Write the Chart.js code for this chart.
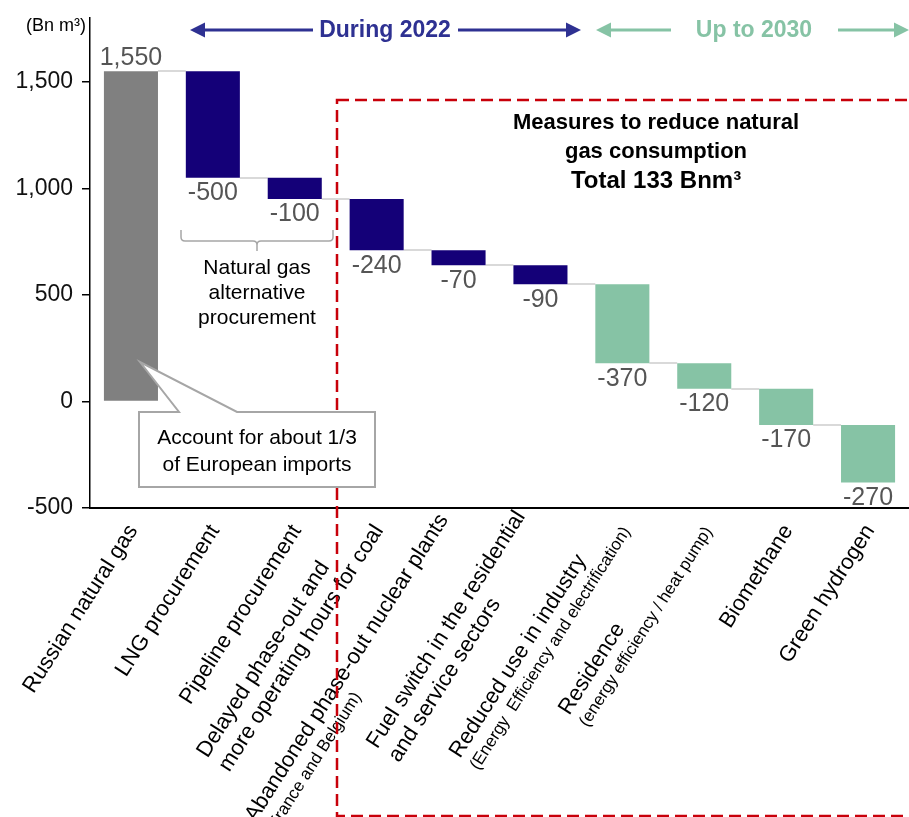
<!DOCTYPE html>
<html lang="en">
<head>
<meta charset="UTF-8" />
<title>Natural gas - waterfall</title>
<script src="https://cdn.jsdelivr.net/npm/chart.js"></script>
<style>
  html, body { margin: 0; padding: 0; background: #fff; }
  #wrap { position: relative; width: 909px; height: 817px; overflow: hidden; }
</style>
</head>
<body>
<div id="wrap"><canvas id="gasChart"></canvas></div>
<script>
// data
const categories = [
  ["Russian natural gas"],
  ["LNG procurement"],
  ["Pipeline procurement"],
  ["Delayed phase-out and", "more operating hours for coal"],
  ["Abandoned phase-out nuclear plants", "(France and Belgium)"],
  ["Fuel switch in the residential", "and service sectors"],
  ["Reduced use in industry", "(Energy  Efficiency and electrification)"],
  ["Residence", "(energy efficiency / heat pump)"],
  ["Biomethane"],
  ["Green hydrogen"]
];
const changes = [1550, -500, -100, -240, -70, -90, -370, -120, -170, -270];
const periods = ["base", "2022", "2022", "2022", "2022", "2022", "2030", "2030", "2030", "2030"];
const yTicks = [-500, 0, 500, 1000, 1500];

const FONT = "'Liberation Sans', Arial, sans-serif";
const periodColors = { base: "#808080", "2022": "#140078", "2030": "#86c3a5" };
const NAVY = "#2e3192";
const GREEN = "#86c3a5";

// running totals -> floating bars
let level = 0;
const totals = [];
const ranges = changes.map(v => {
  const from = level;
  level += v;
  totals.push(level);
  return [Math.min(from, level), Math.max(from, level)];
});

function fmt(v) { return v.toLocaleString("en-US"); }

function arrow(ctx, x1, x2, y, color) {
  // line from x1 to x2, head at x2
  const dir = Math.sign(x2 - x1);
  ctx.strokeStyle = color;
  ctx.fillStyle = color;
  ctx.lineWidth = 3;
  ctx.beginPath();
  ctx.moveTo(x1, y);
  ctx.lineTo(x2 - dir * 12, y);
  ctx.stroke();
  ctx.beginPath();
  ctx.moveTo(x2, y);
  ctx.lineTo(x2 - dir * 15, y - 7.5);
  ctx.lineTo(x2 - dir * 15, y + 7.5);
  ctx.closePath();
  ctx.fill();
}

function centerText(ctx, lines, x, y0, step, font, color) {
  ctx.font = font;
  ctx.fillStyle = color;
  ctx.textAlign = "center";
  ctx.textBaseline = "middle";
  lines.forEach((t, k) => ctx.fillText(t, x, y0 + k * step));
}

const connectors = {
  id: "connectors",
  beforeDatasetsDraw(chart) {
    const ctx = chart.ctx;
    const bars = chart.getDatasetMeta(0).data;
    const ys = chart.scales.y;
    ctx.save();
    ctx.strokeStyle = "#d9d9d9";
    ctx.lineWidth = 2;
    for (let i = 0; i < bars.length - 1; i++) {
      const y = Math.round(ys.getPixelForValue(totals[i]));
      ctx.beginPath();
      ctx.moveTo(bars[i].x + bars[i].width / 2, y);
      ctx.lineTo(bars[i + 1].x - bars[i + 1].width / 2, y);
      ctx.stroke();
    }
    ctx.restore();
  }
};

const overlays = {
  id: "overlays",
  afterDraw(chart) {
    const ctx = chart.ctx;
    const xs = chart.scales.x;
    const ys = chart.scales.y;
    const area = chart.chartArea;
    const bars = chart.getDatasetMeta(0).data;
    ctx.save();

    // value labels
    ctx.font = "25px " + FONT;
    ctx.fillStyle = "#555";
    ctx.textAlign = "center";
    changes.forEach((v, i) => {
      const b = bars[i];
      if (v >= 0) {
        ctx.textBaseline = "alphabetic";
        ctx.fillText(fmt(v), b.x, ys.getPixelForValue(ranges[i][1]) - 6);
      } else {
        ctx.textBaseline = "top";
        ctx.fillText(fmt(v), b.x, ys.getPixelForValue(ranges[i][0]) + 3);
      }
    });

    // rotated category labels: block right-aligned at the tick, anchored on its last line,
    // lines left-aligned inside the block
    const angle = -57.5 * Math.PI / 180;
    categories.forEach((lines, i) => {
      const sizes = lines.map(t => t.startsWith("(") ? 17 : 22);
      const steps = sizes.map(s => s * 1.18);
      const widths = lines.map((t, k) => {
        ctx.font = sizes[k] + "px " + FONT;
        return ctx.measureText(t).width;
      });
      const W = Math.max(...widths);
      const H = steps.reduce((a, b) => a + b, 0);
      const centers = [];
      steps.forEach((s, k) => {
        centers.push(k === 0 ? s / 2 : centers[k - 1] + steps[k - 1] / 2 + s / 2);
      });
      ctx.save();
      ctx.translate(xs.getPixelForValue(i) + 2, area.bottom + 19);
      ctx.rotate(angle);
      ctx.fillStyle = "#000";
      ctx.textAlign = "left";
      ctx.textBaseline = "middle";
      lines.forEach((t, k) => {
        ctx.font = sizes[k] + "px " + FONT;
        ctx.fillText(t, -W, centers[k] - H + 13);
      });
      ctx.restore();
    });

    // red dashed frame for the reduction measures
    ctx.strokeStyle = "#c8000a";
    ctx.lineWidth = 2.5;
    ctx.setLineDash([12, 6]);
    ctx.strokeRect(337, 100, 600, 716);
    ctx.setLineDash([]);

    // callout
    ctx.beginPath();
    ctx.moveTo(139, 412);
    ctx.lineTo(179, 412);
    ctx.lineTo(140, 362);
    ctx.lineTo(237, 412);
    ctx.lineTo(375, 412);
    ctx.lineTo(375, 487);
    ctx.lineTo(139, 487);
    ctx.closePath();
    ctx.fillStyle = "#fff";
    ctx.fill();
    ctx.strokeStyle = "#a6a6a6";
    ctx.lineWidth = 2;
    ctx.stroke();
    centerText(ctx, ["Account for about 1/3", "of European imports"], 257, 438, 27, "21px " + FONT, "#000");

    // bracket under alternative procurement
    ctx.strokeStyle = "#a6a6a6";
    ctx.lineWidth = 1.5;
    ctx.beginPath();
    ctx.moveTo(181, 230);
    ctx.lineTo(181, 237);
    ctx.quadraticCurveTo(181, 241, 185, 241);
    ctx.lineTo(253, 241);
    ctx.quadraticCurveTo(257, 241, 257, 245);
    ctx.lineTo(257, 251);
    ctx.moveTo(257, 245);
    ctx.quadraticCurveTo(257, 241, 261, 241);
    ctx.lineTo(329, 241);
    ctx.quadraticCurveTo(333, 241, 333, 237);
    ctx.lineTo(333, 230);
    ctx.stroke();
    centerText(ctx, ["Natural gas", "alternative", "procurement"], 257, 268, 25, "21px " + FONT, "#000");

    // measures text
    centerText(ctx, ["Measures to reduce natural", "gas consumption"], 656, 123, 29, "bold 22px " + FONT, "#000");
    centerText(ctx, ["Total 133 Bnm\u00b3"], 656, 181, 0, "bold 24px " + FONT, "#000");

    // unit
    centerText(ctx, ["(Bn m\u00b3)"], 56, 26, 0, "18px " + FONT, "#000");

    // period arrows
    arrow(ctx, 313, 190, 30, NAVY);
    arrow(ctx, 458, 581, 30, NAVY);
    centerText(ctx, ["During 2022"], 385, 31, 0, "bold 23px " + FONT, NAVY);
    arrow(ctx, 671, 596, 30, GREEN);
    arrow(ctx, 838, 909, 30, GREEN);
    centerText(ctx, ["Up to 2030"], 754, 31, 0, "bold 23px " + FONT, GREEN);

    ctx.restore();
  }
};

new Chart(document.getElementById("gasChart"), {
  type: "bar",
  data: {
    labels: categories.map(c => c.join(" ")),
    datasets: [{
      data: ranges,
      backgroundColor: periods.map(p => periodColors[p]),
      borderWidth: 0,
      borderSkipped: false,
      barPercentage: 0.66,
      categoryPercentage: 1
    }]
  },
  options: {
    responsive: true,
    maintainAspectRatio: false,
    animation: false,
    layout: { padding: { top: 18, left: 0, right: 0, bottom: 0 } },
    plugins: {
      legend: { display: false },
      tooltip: { enabled: false }
    },
    scales: {
      x: {
        grid: { display: false },
        border: { display: true, color: "#000", width: 2 },
        ticks: { display: false },
        afterFit: s => { s.height = 309; }
      },
      y: {
        min: -500,
        max: 1800,
        afterBuildTicks: s => { s.ticks = yTicks.map(v => ({ value: v })); },
        grid: { drawOnChartArea: false, drawTicks: true, tickLength: 8, color: "#000", lineWidth: 1.5 },
        border: { display: true, color: "#000", width: 1.5 },
        ticks: {
          font: { family: FONT, size: 23 },
          color: "#111",
          padding: 9,
          callback: v => fmt(v)
        },
        afterFit: s => {
          s.width = 90;
          s.paddingTop = 0;
          s.paddingBottom = 0;
        }
      }
    }
  },
  plugins: [connectors, overlays]
});
</script>
</body>
</html>
